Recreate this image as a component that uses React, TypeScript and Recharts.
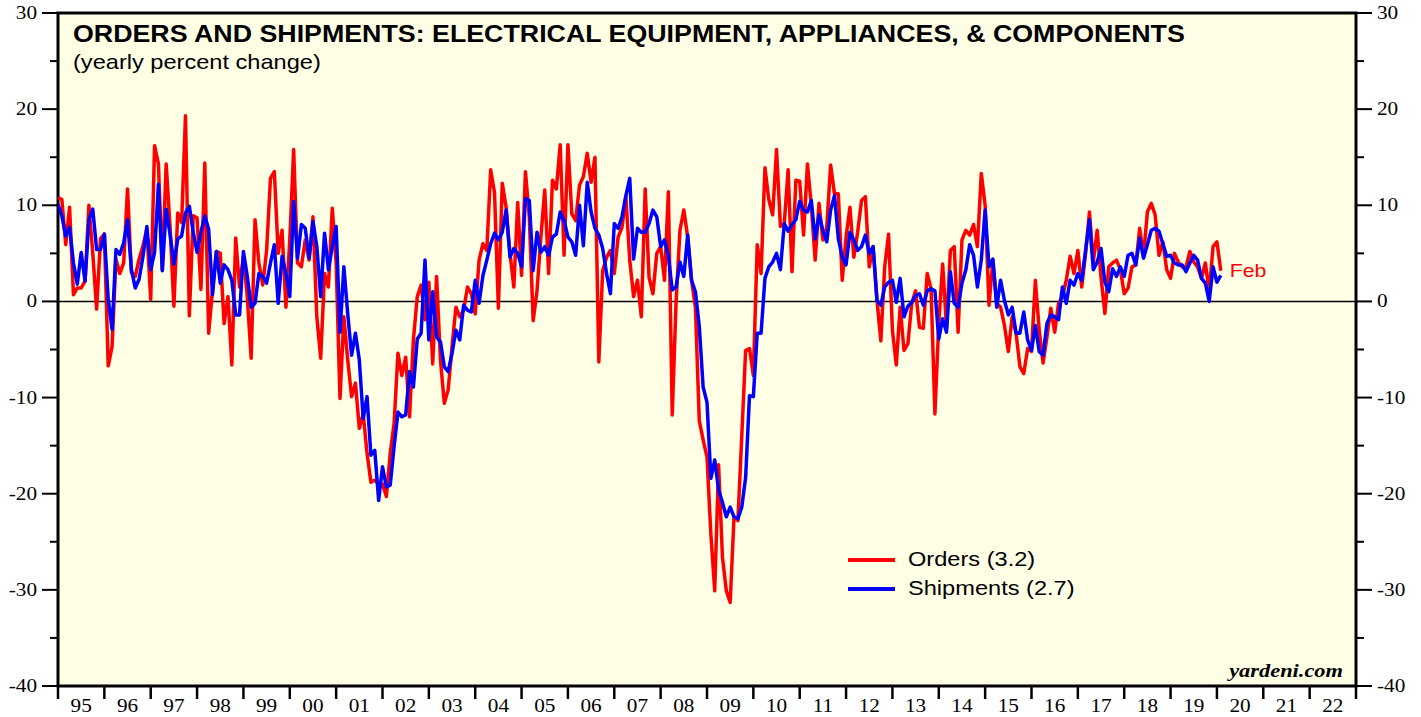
import React from "react";
import { LineChart, Line, XAxis, YAxis, ReferenceLine, ReferenceArea, Legend } from "recharts";

// monthly yearly % change, Jan 1995 .. Feb 2020
const orders = [
  10.8, 10.6, 5.9, 9.8, 0.7, 1.4, 1.4, 2.1, 10.0, 5.0, -0.8, 6.5,
  7.0, -6.7, -4.7, 4.4, 2.9, 4.0, 11.7, 3.0, 2.6, 4.4, 5.8, 7.5,
  0.2, 16.2, 14.3, 3.3, 14.3, 7.8, -0.5, 9.2, 8.2, 19.3, -1.5, 8.9,
  8.7, 1.25, 14.4, -3.3, 1.2, 5.2, 5.0, -2.3, 0.5, -6.6, 6.6, 1.5,
  4.7, 0.5, -5.9, 8.5, 4.0, 1.7, 5.3, 12.8, 13.5, 5.0, 7.4, -0.6,
  6.4, 15.8, 4.0, 3.6, 6.4, 4.3, 8.8, -1.6, -5.9, 2.9, 1.5, 9.7,
  4.0, -10.1, -1.6, -6.1, -9.9, -8.5, -13.2, -11.7, -15.8, -18.8, -18.6, -19.0,
  -19.0, -20.3, -15.8, -12.7, -5.4, -7.7, -5.8, -12.0, -4.0, 0.5, 1.7, -1.9,
  2.0, -6.5, 2.6, -6.1, -10.6, -9.2, -4.7, -0.6, -1.6, -0.9, 1.5, 0.8,
  -1.3, 4.3, 6.0, 5.3, 13.7, 11.3, -0.7, 12.3, 9.8, 5.0, 1.5, 10.3,
  2.7, 13.5, 8.8, -2.0, 1.1, 6.7, 11.6, 2.9, 12.6, 11.7, 16.3, 4.8,
  16.3, 9.1, 8.4, 12.1, 13.0, 15.4, 12.4, 15.0, -6.3, 3.2, 4.6, 5.3,
  2.9, 6.7, 7.7, 10.9, 4.3, 0.5, 2.2, -1.6, 11.7, 2.5, 0.8, 5.0,
  5.7, 2.2, 11.4, -11.8, 0.0, 7.4, 9.5, 6.7, 2.2, -0.6, -12.4, -14.4,
  -16.2, -24.2, -30.1, -17.0, -26.6, -30.1, -31.3, -22.4, -22.8, -14.0, -5.1, -4.9,
  -7.7, 5.9, 2.9, 13.9, 10.6, 9.0, 15.8, 7.8, 8.1, 13.7, 3.1, 12.6,
  12.5, 6.9, 14.3, 10.0, 4.3, 10.2, 6.4, 7.7, 14.2, 11.2, 11.2, 2.2,
  6.7, 9.8, 4.6, 7.2, 10.5, 10.9, 3.6, 5.7, 0.1, -4.1, 3.6, 7.0,
  -3.0, -6.6, -0.6, -5.1, -4.4, -0.2, 1.1, -2.7, -2.8, 2.9, 1.3, -11.7,
  -2.3, 3.9, -2.7, 5.3, 5.7, -3.2, 6.4, 7.4, 6.9, 8.0, 5.7, 13.3,
  10.0, -0.4, 4.3, -0.2, -0.6, -2.5, -5.2, -1.6, -3.3, -6.8, -7.5, -4.9,
  -5.2, 2.2, -3.0, -6.4, -3.7, -0.7, -3.2, -0.2, 0.5, 2.2, 4.7, 2.9,
  5.3, 1.5, 5.0, 9.3, 4.1, 7.4, 2.5, -1.25, 3.6, 4.0, 4.3, 3.3,
  0.8, 1.4, 3.6, 3.8, 7.6, 4.7, 9.3, 10.2, 9.0, 4.8, 6.2, 3.3,
  2.4, 5.0, 4.1, 3.6, 3.6, 5.2, 4.1, 3.6, 2.4, 4.0, 1.0, 5.7,
  6.2, 3.2,
];

const shipments = [
  10.1, 8.9, 6.8, 7.7, 4.0, 1.8, 5.1, 2.1, 8.5, 9.6, 5.4, 5.4,
  7.0, 0.2, -2.9, 5.4, 4.9, 6.1, 8.5, 3.3, 1.4, 2.3, 4.7, 7.8,
  3.3, 5.1, 12.2, 3.2, 9.6, 7.0, 3.9, 6.5, 6.8, 9.2, 9.9, 7.2,
  5.1, 7.2, 8.9, 7.5, 0.7, 5.2, 1.9, 3.8, 3.3, 2.2, -1.4, -1.4,
  5.2, 2.6, -0.6, -0.2, 2.9, 2.6, 1.9, 4.0, 5.9, -0.2, 4.7, 2.9,
  0.5, 10.4, 4.5, 8.0, 7.6, 4.5, 8.3, 5.7, 0.5, 7.1, 3.3, 5.7,
  7.8, -3.2, 3.6, -1.3, -5.6, -3.3, -6.1, -12.2, -9.9, -16.0, -15.5, -20.7,
  -17.2, -19.3, -19.1, -15.1, -11.5, -12.0, -11.8, -7.3, -8.9, -3.9, -3.3, 4.3,
  -4.0, 1.0, -3.7, -4.2, -6.8, -7.3, -5.4, -3.0, -4.0, -0.4, -0.9, -1.1,
  2.2, -0.2, 2.7, 4.3, 6.0, 7.1, 6.4, 7.2, 9.5, 4.6, 5.5, 5.0,
  3.6, 10.7, 10.5, 3.2, 7.2, 5.1, 5.7, 4.8, 6.7, 7.0, 9.3, 8.4,
  6.7, 6.2, 4.8, 10.0, 5.8, 12.4, 9.3, 7.6, 6.9, 5.5, 2.9, 0.8,
  8.1, 7.6, 8.8, 11.0, 12.8, 4.4, 7.6, 7.2, 7.2, 8.1, 9.5, 8.8,
  5.7, 6.4, 4.7, 1.2, 1.5, 4.1, 2.6, 6.9, 2.2, 1.0, -2.6, -8.9,
  -10.5, -18.4, -16.5, -19.6, -20.9, -22.4, -21.4, -22.4, -22.6, -21.4, -18.3, -9.8,
  -9.9, -3.3, -3.3, 2.4, 3.6, 4.1, 5.0, 3.3, 8.1, 7.3, 8.0, 8.5,
  10.4, 9.5, 9.3, 10.5, 6.5, 9.0, 7.4, 6.2, 9.5, 11.0, 6.5, 4.6,
  3.8, 7.2, 6.4, 5.3, 5.7, 6.9, 5.0, 5.7, 0.1, -0.4, 1.5, 2.0,
  2.2, -0.1, 2.4, -1.6, -0.5, -0.1, 0.6, 0.8, -0.4, 1.1, 1.3, 1.1,
  -3.9, -1.8, -3.2, 3.1, -0.2, -0.6, 1.9, 3.3, 5.9, 4.8, 1.5, 4.3,
  9.5, 3.6, 4.4, -0.6, 2.2, 0.1, -1.4, -0.6, -3.3, -3.3, -1.1, -4.0,
  -5.1, -2.5, -5.2, -5.6, -2.3, -1.4, -1.6, -1.9, 1.5, -0.2, 2.2, 1.7,
  2.9, 2.2, 5.3, 8.5, 3.3, 4.1, 5.5, 2.0, 1.0, 3.4, 2.6, 3.6,
  2.6, 4.8, 5.0, 3.8, 6.6, 4.5, 5.9, 7.4, 7.6, 7.3, 6.0, 4.7,
  4.8, 4.0, 3.8, 3.8, 3.1, 4.0, 4.8, 4.3, 2.4, 1.9, 0.0, 3.6,
  2.0, 2.7,
];

const yearLabels = ["95", "96", "97", "98", "99", "00", "01", "02", "03", "04", "05", "06", "07", "08",
  "09", "10", "11", "12", "13", "14", "15", "16", "17", "18", "19", "20", "21", "22"];
const yTicks = [-40, -35, -30, -25, -20, -15, -10, -5, 0, 5, 10, 15, 20, 25, 30];
const lastMonth = "Feb";
const seriesNames = { orders: "Orders (3.2)", shipments: "Shipments (2.7)" };

const data = orders.map((v, i) => ({ m: i, orders: v, shipments: shipments[i] }));
const xTicks = [...yearLabels.map((_, i) => i * 12), yearLabels.length * 12, ...yearLabels.map((_, i) => i * 12 + 6)];

const serif = "'Liberation Serif', 'Times New Roman', serif";
const sans = "'Liberation Sans', Arial, sans-serif";
// the source picture is a little wider than tall, so all text is stretched sideways
const SX = 1.18;

const WideText = ({ x, y, anchor = "start", sx = SX, children, ...rest }: any) => (
  <text transform={`translate(${x},${y}) scale(${sx},1)`} x={0} y={0} textAnchor={anchor} fill="#000" {...rest}>
    {children}
  </text>
);

const LeftTick = (props: any) => {
  const { x, y, payload } = props;
  const major = payload.value % 10 === 0;
  return (
    <g>
      <line x1={x - (major ? 16 : 8)} x2={x} y1={y} y2={y} stroke="#000" strokeWidth={2} />
      {major && (
        <WideText x={x - 21} y={y + 6} anchor="end" fontFamily={serif} fontSize={18}>
          {payload.value}
        </WideText>
      )}
    </g>
  );
};

const RightTick = (props: any) => {
  const { x, y, payload } = props;
  const major = payload.value % 10 === 0;
  return (
    <g>
      <line x1={x} x2={x + (major ? 16 : 8)} y1={y} y2={y} stroke="#000" strokeWidth={2} />
      {major && (
        <WideText x={x + 21} y={y + 6} fontFamily={serif} fontSize={18}>
          {payload.value}
        </WideText>
      )}
    </g>
  );
};

const BottomTick = (props: any) => {
  const { x, y, payload } = props;
  const v = payload.value;
  if (v % 12 === 0) {
    return <line x1={x} x2={x} y1={y} y2={y + 13} stroke="#000" strokeWidth={2.5} />;
  }
  return (
    <WideText x={x} y={y + 26} anchor="middle" fontFamily={serif} fontSize={18}>
      {yearLabels[Math.floor(v / 12)]}
    </WideText>
  );
};

const renderLegend = (props: any) => (
  <div style={{ fontFamily: sans, fontSize: 20, color: "#000" }}>
    {(props.payload || []).map((p: any) => (
      <div key={p.value} style={{ display: "flex", alignItems: "center", height: 29 }}>
        <div style={{ width: 47, height: 4, background: p.color, marginRight: 13 }} />
        <span style={{ display: "inline-block", transform: `scaleX(${SX})`, transformOrigin: "left center" }}>{p.value}</span>
      </div>
    ))}
  </div>
);

const FebLabel = (props: any) => {
  const { x, y, index } = props;
  if (index !== orders.length - 1) return null;
  return (
    <WideText x={x + 9} y={y + 6} fontFamily={sans} fontSize={18} fill="#ff0000">
      {lastMonth}
    </WideText>
  );
};

export default function App() {
  return (
    <div style={{ position: "absolute", left: 0, top: 0, width: 1421, height: 717, background: "#fff" }}>
      <LineChart width={1421} height={717} data={data} margin={{ top: 13, right: 64, bottom: 30, left: 57 }}>
        <ReferenceArea xAxisId="x" yAxisId="left" x1={0} x2={336} y1={-40} y2={30} fill="#ffffe6" fillOpacity={1} stroke="none" ifOverflow="visible" />
        <XAxis xAxisId="x" dataKey="m" type="number" domain={[0, 336]} ticks={xTicks} interval={0}
          height={1} tickSize={0} tickMargin={0} axisLine={false} tickLine={false} tick={<BottomTick />} allowDataOverflow />
        <YAxis yAxisId="left" type="number" domain={[-40, 30]} ticks={yTicks} interval={0}
          width={1} tickSize={0} tickMargin={0} axisLine={false} tickLine={false} tick={<LeftTick />} allowDataOverflow />
        <YAxis yAxisId="right" orientation="right" type="number" domain={[-40, 30]} ticks={yTicks} interval={0}
          width={1} tickSize={0} tickMargin={0} axisLine={false} tickLine={false} tick={<RightTick />} allowDataOverflow />
        <ReferenceLine xAxisId="x" yAxisId="left" y={0} stroke="#000" strokeWidth={1.5} />
        <Legend layout="vertical" align="center" verticalAlign="middle" content={renderLegend}
          wrapperStyle={{ left: 848, top: 545, width: 300 }} />
        <Line xAxisId="x" yAxisId="left" type="linear" dataKey="orders" name={seriesNames.orders} stroke="#ff0000"
          strokeWidth={3.5} dot={false} isAnimationActive={false} strokeLinejoin="round" label={<FebLabel />} />
        <Line xAxisId="x" yAxisId="left" type="linear" dataKey="shipments" name={seriesNames.shipments} stroke="#0000ff"
          strokeWidth={3.5} dot={false} isAnimationActive={false} strokeLinejoin="round" />
        <ReferenceArea xAxisId="x" yAxisId="left" x1={0} x2={336} y1={-40} y2={30} fill="none" stroke="#000" strokeWidth={3} ifOverflow="visible" />
      </LineChart>
      <svg width={1421} height={717} style={{ position: "absolute", left: 0, top: 0, pointerEvents: "none" }}>
        <WideText x={73} y={42} sx={1.165} fontFamily={sans} fontWeight="bold" fontSize={23}>
          ORDERS AND SHIPMENTS: ELECTRICAL EQUIPMENT, APPLIANCES, &amp; COMPONENTS
        </WideText>
        <WideText x={73} y={69} fontFamily={sans} fontSize={20}>
          (yearly percent change)
        </WideText>
        <WideText x={1343} y={677} anchor="end" fontFamily={serif} fontWeight="bold" fontStyle="italic" fontSize={19}>
          yardeni.com
        </WideText>
      </svg>
    </div>
  );
}
